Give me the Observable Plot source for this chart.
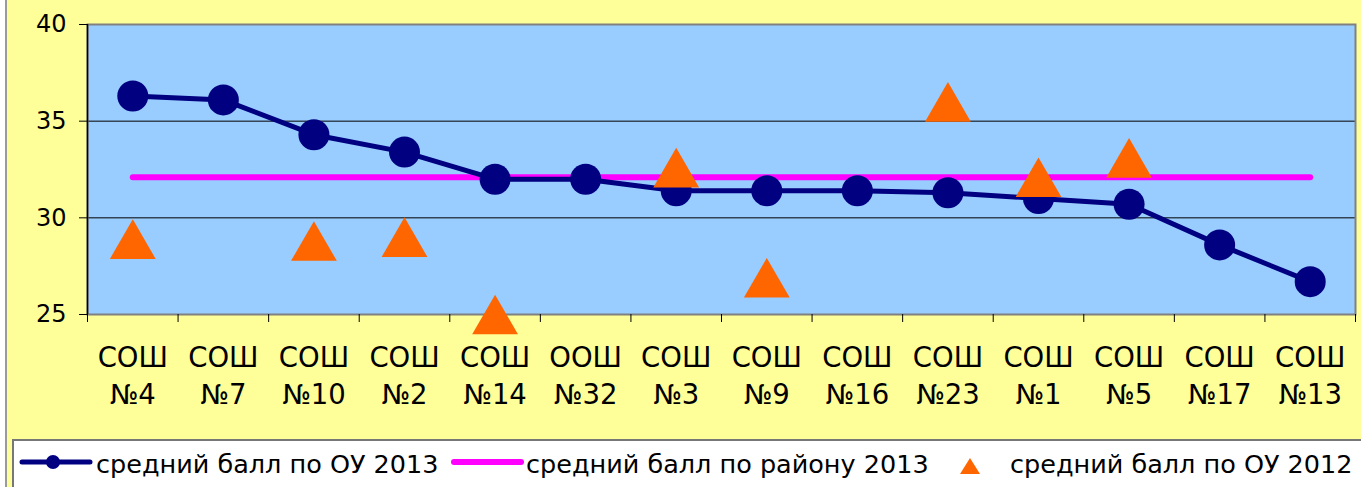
<!DOCTYPE html>
<html>
<head>
<meta charset="utf-8">
<script src="https://cdn.jsdelivr.net/npm/d3@7"></script>
<script src="https://cdn.jsdelivr.net/npm/@observablehq/plot@0.6"></script>
<style>
  html, body { margin: 0; padding: 0; width: 1361px; height: 487px; overflow: hidden; }
  body {
    background: linear-gradient(to right, #ffffff 0 5px, #9a9a9a 5px 7px, #FFFF99 7px);
    font-family: "DejaVu Sans", sans-serif;
    position: relative;
  }
  #chart { position: absolute; left: 0; top: 0; }
  #legend {
    position: absolute; left: 12px; top: 439px; width: 1400px; height: 60px;
    background: #ffffff; border: 2px solid #777; box-sizing: border-box;
  }
  .lg-text { position: absolute; top: 8px; font-size: 25.5px; line-height: 30px; color: #000; white-space: nowrap; }
  .lg-sym { position: absolute; top: 0; }
</style>
</head>
<body>
<div id="chart"></div>
<div id="legend"></div>
<script>
const categories = ["СОШ №4","СОШ №7","СОШ №10","СОШ №2","СОШ №14","ООШ №32","СОШ №3","СОШ №9","СОШ №16","СОШ №23","СОШ №1","СОШ №5","СОШ №17","СОШ №13"];
const scores2013 = [36.3, 36.1, 34.3, 33.4, 32.0, 32.0, 31.4, 31.4, 31.4, 31.3, 31.0, 30.7, 28.6, 26.7];
const scores2012 = [28.9, null, 28.8, 29.0, 25.0, null, 32.6, 26.9, null, 36.0, 32.1, 33.1, null, null];
const district2013 = 32.1;
const yTicks = [25, 30, 35, 40];
const gridTicks = [30, 35];
const seriesNames = ["средний балл по ОУ 2013", "средний балл по району 2013", "средний балл по ОУ 2012"];
const colors = { school2013: "#000080", district2013: "#FF00FF", school2012: "#FF6600", plotBg: "#99CCFF" };

const rows = categories.map((c, i) => ({ i, name: c, v13: scores2013[i], v12: scores2012[i], dist: district2013 }));
const rows12 = rows.filter(d => d.v12 != null);

const chart = Plot.plot({
  width: 1361,
  height: 439,
  marginLeft: 87,
  marginRight: 6,
  marginTop: 24,
  marginBottom: 125,
  style: { background: "transparent", fontFamily: "DejaVu Sans", color: "black", overflow: "visible" },
  x: { domain: [0, categories.length], axis: null },
  y: { domain: [25, 40], axis: null },
  marks: [
    Plot.frame({ fill: colors.plotBg }),
    Plot.ruleY(gridTicks, { stroke: "black", strokeWidth: 1 }),
    Plot.frame({ stroke: "#808080", strokeWidth: 2 }),
    Plot.ruleX([0], { stroke: "black", strokeWidth: 1.5 }),
    Plot.axisX(d3.range(categories.length + 1), { tickSize: 8, tickFormat: () => "", stroke: "black" }),
    Plot.axisX(categories.map((c, i) => i + 0.5), {
      tickSize: 0, tickPadding: 27,
      tickFormat: v => categories[Math.floor(v)].replace(" ", "\n"),
      fontSize: 27.5, lineHeight: 1.32
    }),
    Plot.axisY(yTicks, { tickSize: 8, tickPadding: 13, fontSize: 24, stroke: "black" }),
    Plot.line(rows, { x: d => d.i + 0.5, y: "dist", stroke: colors.district2013, strokeWidth: 6, strokeLinecap: "round" }),
    Plot.line(rows, { x: d => d.i + 0.5, y: "v13", stroke: colors.school2013, strokeWidth: 5 }),
    Plot.dot(rows, { x: d => d.i + 0.5, y: "v13", r: 15.5, fill: colors.school2013, stroke: null }),
    Plot.dot(rows12, { x: d => d.i + 0.5, y: "v12", symbol: "triangle", r: 17, dy: 6.6, fill: colors.school2012, stroke: null })
  ]
});
document.getElementById("chart").appendChild(chart);

// Legend
const legend = document.getElementById("legend");
legend.innerHTML = `
  <svg class="lg-sym" width="100" height="50" style="left:-2px">
    <line x1="10" x2="78" y1="21" y2="21" stroke="${colors.school2013}" stroke-width="5" stroke-linecap="round"/>
    <circle cx="41" cy="21" r="7" fill="${colors.school2013}"/>
  </svg>
  <div class="lg-text" style="left:82px">${seriesNames[0]}</div>
  <svg class="lg-sym" width="90" height="50" style="left:430px">
    <line x1="10" x2="77" y1="21" y2="21" stroke="${colors.district2013}" stroke-width="6" stroke-linecap="round"/>
  </svg>
  <div class="lg-text" style="left:512px">${seriesNames[1]}</div>
  <svg class="lg-sym" width="40" height="50" style="left:936px">
    <polygon points="10,0 20,16 0,16" transform="translate(10,17)" fill="${colors.school2012}"/>
  </svg>
  <div class="lg-text" style="left:996px">${seriesNames[2]}</div>
`;
</script>
</body>
</html>
